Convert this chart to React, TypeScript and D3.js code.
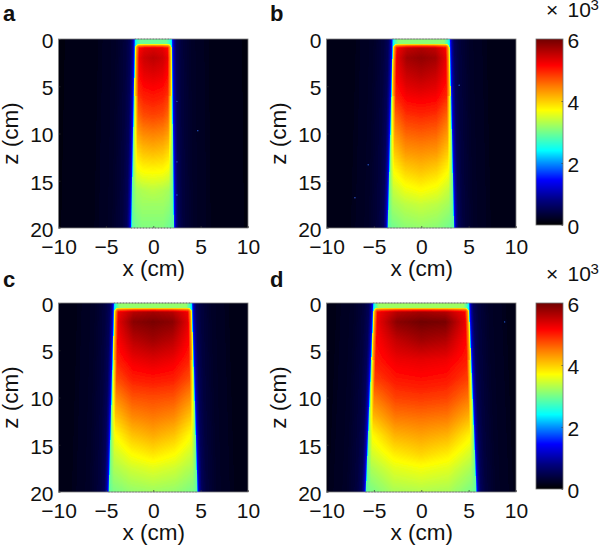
import * as d3 from "d3";
import { useEffect, useRef } from "react";

// colour bar, values in units of 10^3
const colorValues = [0, 0.8, 1.45, 2, 2.4, 3.05, 3.7, 4.45, 5.15, 6];
const colorHex = ["#000000", "#000080", "#0000ff", "#0090ff", "#00ffff", "#80ff80", "#ffff00", "#ff8000", "#ff0000", "#700000"];
const xTicks = [-10, -5, 0, 5, 10];
const zTicks = [0, 5, 10, 15, 20];
const barTicks = [0, 2, 4, 6];

// beam depth rows and the fractions across the beam the tables are read at
const zStops = [0.6, 2, 4, 6, 8, 10, 12, 14, 16, 17.5, 20];
const fracStops = [0.03, 0.25, 0.5, 0.75, 0.97];

const valuesA = [
  [5.0, 5.25, 5.3, 5.25, 5.0],
  [5.15, 5.45, 5.55, 5.45, 5.15],
  [5.0, 5.25, 5.3, 5.25, 5.0],
  [4.8, 5.0, 5.05, 5.0, 4.8],
  [4.5, 4.75, 4.8, 4.75, 4.5],
  [4.2, 4.4, 4.45, 4.4, 4.2],
  [3.85, 4.05, 4.1, 4.05, 3.85],
  [3.55, 3.7, 3.72, 3.7, 3.55],
  [3.2, 3.3, 3.35, 3.3, 3.2],
  [3.1, 3.2, 3.2, 3.2, 3.1],
  [2.9, 3.05, 3.05, 3.05, 2.9],
];
const valuesB = [
  [5.1, 5.45, 5.55, 5.45, 5.1],
  [5.2, 5.7, 5.8, 5.7, 5.2],
  [5.1, 5.45, 5.55, 5.45, 5.1],
  [4.9, 5.2, 5.25, 5.2, 4.9],
  [4.55, 4.9, 4.95, 4.9, 4.55],
  [4.25, 4.6, 4.65, 4.6, 4.25],
  [3.95, 4.3, 4.35, 4.3, 3.95],
  [3.65, 3.95, 4.05, 3.95, 3.65],
  [3.35, 3.6, 3.7, 3.6, 3.35],
  [3.2, 3.35, 3.42, 3.35, 3.2],
  [2.95, 3.1, 3.15, 3.1, 2.95],
];
const valuesC = [
  [5.15, 5.5, 5.6, 5.5, 5.15],
  [5.25, 5.85, 5.95, 5.85, 5.25],
  [5.1, 5.55, 5.7, 5.55, 5.1],
  [4.95, 5.25, 5.35, 5.25, 4.95],
  [4.7, 5.0, 5.05, 5.0, 4.7],
  [4.35, 4.7, 4.75, 4.7, 4.35],
  [4.0, 4.4, 4.5, 4.4, 4.0],
  [3.65, 4.05, 4.2, 4.05, 3.65],
  [3.4, 3.7, 3.85, 3.7, 3.4],
  [3.25, 3.45, 3.55, 3.45, 3.25],
  [3.0, 3.15, 3.2, 3.15, 3.0],
];
const valuesD = [
  [5.15, 5.5, 5.6, 5.5, 5.15],
  [5.2, 5.85, 6.0, 5.95, 5.25],
  [5.1, 5.5, 5.7, 5.6, 5.1],
  [5.0, 5.25, 5.3, 5.25, 5.0],
  [4.8, 5.05, 5.1, 5.05, 4.8],
  [4.45, 4.8, 4.85, 4.8, 4.5],
  [4.1, 4.5, 4.55, 4.5, 4.15],
  [3.7, 4.15, 4.25, 4.15, 3.75],
  [3.45, 3.8, 3.95, 3.8, 3.45],
  [3.25, 3.55, 3.65, 3.55, 3.25],
  [3.0, 3.25, 3.3, 3.25, 3.0],
];

// beam edges in cm at z = 0 and z = 20
const edgeZ = [0, 20];
const leftA = [-1.95, -2.35];
const rightA = [1.88, 2.1];
const leftB = [-3.03, -3.56];
const rightB = [2.92, 3.38];
const leftC = [-4.15, -4.72];
const rightC = [4.0, 4.58];
const leftD = [-5.07, -5.88];
const rightD = [4.96, 5.74];

// value falling off with distance from the beam edge, outside and inside
const haloDist = [0, 0.1, 0.25, 0.5, 1, 2, 4, 12];
const haloValue = [2.3, 1.5, 0.95, 0.55, 0.38, 0.26, 0.16, 0.06];
const rimDist = [0, 0.15, 0.45];
const rimMix = [0, 0.5, 1];

// stray bright pixels: x, z
const specksA = [[2.5, 6.6], [4.7, 9.7], [2.5, 13], [2.5, 16.5]];
const specksB = [[4.0, 4.9], [-7, 16.8], [-5.6, 13.3]];
const specksC: number[][] = [];
const specksD = [[8.8, 2.0]];

const panels = [
  { letter: "a", lx: 3, ly: 21, px: 58.5, py: 39, values: valuesA, left: leftA, right: rightA, specks: specksA, strip: 2.95 },
  { letter: "b", lx: 270, ly: 21, px: 326.5, py: 39, values: valuesB, left: leftB, right: rightB, specks: specksB, strip: 3.1 },
  { letter: "c", lx: 3, ly: 287, px: 58.5, py: 303, values: valuesC, left: leftC, right: rightC, specks: specksC, strip: 3.15 },
  { letter: "d", lx: 270, ly: 287, px: 326.5, py: 303, values: valuesD, left: leftD, right: rightD, specks: specksD, strip: 3.2 },
];

const plotW = 189.5;
const plotH = 189;
const barX = 536;
const barW = 27;
const barH = 186;
const fontFamily = "'Liberation Sans', Arial, sans-serif";
const tickFont = "21px";
const labelFont = "22.5px";
const cornerRadius = 0.45;
const stripDepth = 0.5;

export default function App() {
  const ref = useRef<HTMLDivElement>(null);

  useEffect(() => {
    if (!ref.current) return;
    ref.current.innerHTML = "";

    const svg = d3
      .select(ref.current)
      .append("svg")
      .attr("width", 600)
      .attr("height", 547)
      .style("position", "absolute")
      .style("left", 0)
      .style("top", 0)
      .style("background", "#fff")
      .style("font-family", fontFamily);

    const color = d3.scaleLinear<string>().domain(colorValues).range(colorHex).clamp(true);
    const halo = d3.scaleLinear().domain(haloDist).range(haloValue).clamp(true);
    const rim = d3.scaleLinear().domain(rimDist).range(rimMix).clamp(true);

    const defs = svg.append("defs");
    defs
      .append("filter")
      .attr("id", "soft")
      .attr("x", "-5%")
      .attr("y", "-5%")
      .attr("width", "110%")
      .attr("height", "110%")
      .append("feGaussianBlur")
      .attr("stdDeviation", 0.65);

    panels.forEach((p, pi) => {
      const x = d3.scaleLinear().domain([-10, 10]).range([0, plotW]);
      const z = d3.scaleLinear().domain([0, 20]).range([0, plotH]);
      const leftEdge = d3.scaleLinear().domain(edgeZ).range(p.left);
      const rightEdge = d3.scaleLinear().domain(edgeZ).range(p.right);
      const columns = fracStops.map((_, c) =>
        d3.scaleLinear().domain(zStops).range(p.values.map((r) => r[c])).clamp(true)
      );

      const valueAt = (cx: number, cz: number) => {
        const l = leftEdge(cz);
        const r = rightEdge(cz);
        const out = Math.max(l - cx, cx - r);
        if (out > 0) return halo(out);
        const inside = -out;
        const stripValue = 2.3 + (p.strip - 2.3) * rim(inside * 0.8);
        const dz = cz - stripDepth;
        if (dz < 0) return stripValue;

        // distance to the rounded outline of the bright interior
        const dist =
          inside < cornerRadius && dz < cornerRadius
            ? cornerRadius - Math.hypot(cornerRadius - inside, cornerRadius - dz)
            : Math.min(inside, dz);
        if (dist < 0) return stripValue;

        const across = d3
          .scaleLinear()
          .domain(fracStops)
          .range(columns.map((c) => c(cz)))
          .clamp(true)((cx - l) / (r - l));
        const rimValue = dz < inside ? p.strip + 0.3 : cz < 6 ? 3.4 : 2.85;
        return rimValue + (across - rimValue) * rim(dist);
      };

      // one path per colour level, so the cells stay cheap to draw
      const levels = 256;
      const level = d3.scaleQuantize<number>().domain([0, 6]).range(d3.range(levels));
      const cols = d3.range(-3, Math.ceil(plotW) + 3);
      const rows = d3.range(-3, Math.ceil(plotH) + 3);
      const paths: string[] = d3.range(levels).map(() => "");
      rows.forEach((ry) => {
        const cz = z.invert(ry + 0.5);
        cols.forEach((rx) => {
          const v = valueAt(x.invert(rx + 0.5), cz);
          paths[level(v)] += `M${rx},${ry}h1.05v1.05h-1.05z`;
        });
      });

      const clipId = `clip-${pi}`;
      defs
        .append("clipPath")
        .attr("id", clipId)
        .append("rect")
        .attr("width", plotW)
        .attr("height", plotH);

      const g = svg.append("g").attr("transform", `translate(${p.px},${p.py})`);
      const heat = g
        .append("g")
        .attr("clip-path", `url(#${clipId})`)
        .append("g")
        .attr("filter", "url(#soft)");

      heat
        .selectAll("path")
        .data(paths)
        .join("path")
        .attr("d", (d) => d)
        .attr("fill", (_, i) => color(((i + 0.5) / levels) * 6))
        .attr("shape-rendering", "crispEdges");

      heat
        .selectAll("circle")
        .data(p.specks)
        .join("circle")
        .attr("cx", (d) => x(d[0]))
        .attr("cy", (d) => z(d[1]))
        .attr("r", 0.7)
        .attr("fill", "#2a5cd8");

      // dotted rim where the beam meets the top and bottom of the frame
      [0, 20].forEach((zv, i) => {
        g.append("line")
          .attr("x1", x(p.left[i]))
          .attr("x2", x(p.right[i]))
          .attr("y1", z(zv))
          .attr("y2", z(zv))
          .attr("stroke", "#444")
          .attr("stroke-opacity", 0.7)
          .attr("stroke-width", 1)
          .attr("stroke-dasharray", "1,2");
      });

      const xAxis = g
        .append("g")
        .attr("transform", `translate(0,${plotH})`)
        .call(
          d3
            .axisBottom(x)
            .tickValues(xTicks)
            .tickSize(-2)
            .tickPadding(11.5)
            .tickFormat((d) => String(d).replace("-", "\u2212"))
        );
      const zAxis = g.append("g").call(
        d3.axisLeft(z).tickValues(zTicks).tickSize(-2).tickPadding(5)
      );

      [xAxis, zAxis].forEach((a) => {
        a.select(".domain").remove();
        a.selectAll("line").attr("stroke", "#333").attr("stroke-width", 0.7);
        a.selectAll("text").attr("fill", "#111").style("font-size", tickFont).style("font-family", fontFamily);
      });
      zAxis.selectAll("text").attr("dy", "0.4em");

      g.append("rect")
        .attr("width", plotW)
        .attr("height", plotH)
        .attr("fill", "none")
        .attr("stroke", "#808080")
        .attr("stroke-width", 0.8);

      g.append("text")
        .attr("x", plotW / 2 + 0.5)
        .attr("y", plotH + 48)
        .attr("text-anchor", "middle")
        .attr("fill", "#111")
        .style("font-size", labelFont)
        .text("x (cm)");

      g.append("text")
        .attr("transform", `translate(-40.5,${plotH / 2}) rotate(-90)`)
        .attr("text-anchor", "middle")
        .attr("fill", "#111")
        .style("font-size", labelFont)
        .text("z (cm)");

      svg
        .append("text")
        .attr("x", p.lx)
        .attr("y", p.ly)
        .attr("fill", "#111")
        .style("font-size", "22px")
        .style("font-weight", "700")
        .text(p.letter);
    });

    // colour bars, one for each row of panels
    [39, 303].forEach((barY) => {
      const v = d3.scaleLinear().domain([0, 6]).range([barH, 0]);
      const g = svg.append("g").attr("transform", `translate(${barX},${barY})`);

      g.append("g")
        .selectAll("rect")
        .data(d3.range(barH))
        .join("rect")
        .attr("y", (d) => d)
        .attr("width", barW)
        .attr("height", 1.1)
        .attr("fill", (d) => color(v.invert(d + 0.5)))
        .attr("shape-rendering", "crispEdges");

      const axis = g.append("g").attr("transform", `translate(${barW},0)`).call(
        d3
          .axisRight(v)
          .tickValues(barTicks)
          .tickSize(-1.5)
          .tickPadding(4.5)
          .tickFormat((d) => String(d))
      );
      axis.select(".domain").remove();
      axis.selectAll("line").attr("stroke", "#333").attr("stroke-width", 0.7);
      axis.selectAll("text").attr("fill", "#111").attr("dy", "0.42em").style("font-size", tickFont).style("font-family", fontFamily);

      g.append("rect")
        .attr("width", barW)
        .attr("height", barH)
        .attr("fill", "none")
        .attr("stroke", "#707070")
        .attr("stroke-width", 0.8);

      g.append("text")
        .attr("x", 10)
        .attr("y", -22)
        .attr("fill", "#111")
        .style("font-size", tickFont)
        .text("\u00d7");
      g.append("text")
        .attr("x", 31.5)
        .attr("y", -22)
        .attr("fill", "#111")
        .style("font-size", tickFont)
        .text("10");
      g.append("text")
        .attr("x", 54.5)
        .attr("y", -29)
        .attr("fill", "#111")
        .style("font-size", "15px")
        .text("3");
    });
  }, []);

  return <div ref={ref} />;
}
